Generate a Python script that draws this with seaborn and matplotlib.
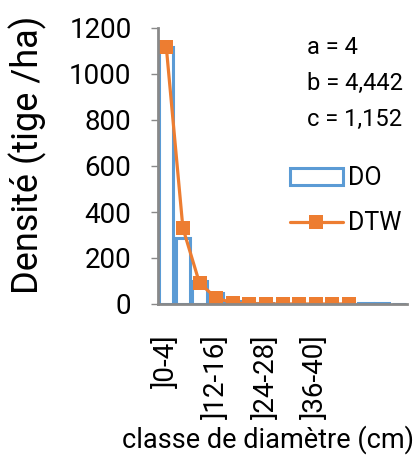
import numpy as np
import pandas as pd
import matplotlib
matplotlib.use("Agg")
import matplotlib.pyplot as plt
import seaborn as sns

# ---- data ----
categories = ["]0-4]", "]4-8]", "]8-12]", "]12-16]", "]16-20]", "]20-24]", "]24-28]",
              "]28-32]", "]32-36]", "]36-40]", "]40-44]", "]44-48]", "]48-52]",
              "]52-56]", "]56-60]"]
do_values = [1117, 287, 100, 47, 12, 4, 3, 2, 2, 2, 1, 1, 3, 3, 0]
dtw_values = [1117, 330, 91, 26, 5, 1, 0.5, 0.3, 0.2, 0.1, 0.05, 0.03]
shown_ticks = [0, 3, 6, 9]
params_text = ["a = 4", "b = 4,442", "c = 1,152"]
y_ticks = [0, 200, 400, 600, 800, 1000, 1200]

BLUE = "#5B9BD5"
ORANGE = "#ED7D31"
GREY = "#898989"

sns.set_theme(style="white")
plt.rcParams["font.family"] = ["Roboto", "DejaVu Sans"]
plt.rcParams["text.color"] = "black"

fig = plt.figure(figsize=(4.16, 4.62), dpi=100)
ax = fig.add_axes([158/416, 1-304/462, (407-158)/416, (304-28)/462])

df_do = pd.DataFrame({"classe": categories, "densite": do_values})
sns.barplot(data=df_do, x="classe", y="densite", ax=ax, fill=False, color=BLUE,
            linewidth=2.2, width=0.85, label="DO", errorbar=None)
for p in ax.patches:
    p.set_edgecolor(BLUE)

df_dtw = pd.DataFrame({"pos": np.arange(len(dtw_values)), "densite": dtw_values})
sns.lineplot(data=df_dtw, x="pos", y="densite", ax=ax, color=ORANGE, linewidth=2.3,
             marker="s", markersize=9.5, markeredgewidth=0, label="DTW")

ax.set_xlim(-0.5, len(categories) - 0.5)
ax.set_ylim(0, 1200)
ax.set_yticks(y_ticks)
ax.set_yticklabels([str(v) for v in y_ticks], fontsize=20)
ax.set_xticks(shown_ticks)
ax.set_xticklabels([categories[i] for i in shown_ticks], rotation=90, fontsize=20)
ax.tick_params(axis="x", length=0, pad=22, labelcolor="black")
ax.tick_params(axis="y", length=5, width=1, color=GREY, labelcolor="black",
               direction="out", pad=14, left=True)

for s in ["top", "right"]:
    ax.spines[s].set_visible(False)
for s in ["left", "bottom"]:
    ax.spines[s].set_color(GREY)
    ax.spines[s].set_linewidth(2)

ax.set_xlabel("")
ax.set_ylabel("")
fig.text(0.068, 1 - 155/462, "Densité (tige /ha)", rotation=90, fontsize=26,
         ha="center", va="center")
fig.text(414/416, 1 - 440/462, "classe de diamètre (cm)", fontsize=19.5, ha="right", va="center")

for i, t in enumerate(params_text):
    fig.text(307/416, 1 - (47 + i*36)/462, t, fontsize=17, ha="left", va="center")

handles, labels = ax.get_legend_handles_labels()
order = [labels.index("DO"), labels.index("DTW")]
leg = ax.legend([handles[i] for i in order], [labels[i] for i in order],
                loc="upper left", bbox_to_anchor=((290-158)/249, (304-166)/276),
                frameon=False, fontsize=18, handlelength=2.1, handletextpad=0.2,
                labelspacing=0.85, borderpad=0, borderaxespad=0)

fig.savefig("out.png", dpi=100)
